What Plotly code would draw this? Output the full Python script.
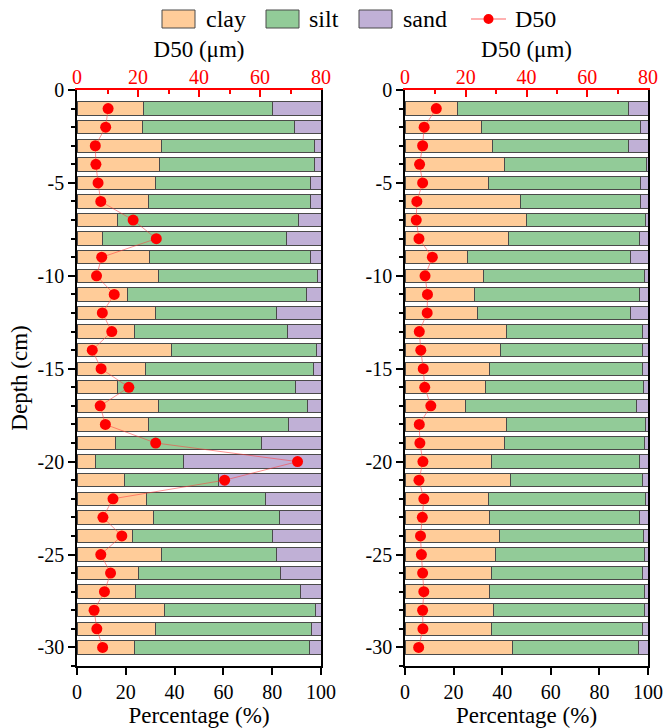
import plotly.graph_objects as go

depths = [-i for i in range(1, 31)]

# Left core
clay_a = [27.4, 27.0, 34.7, 33.7, 32.2, 29.2, 16.7, 10.5, 29.7, 33.3,
          20.7, 32.3, 23.6, 38.6, 27.9, 16.4, 33.2, 29.5, 15.6, 7.5,
          19.3, 28.5, 31.2, 22.9, 34.8, 25.3, 24.1, 36.0, 32.1, 23.7]
silt_end_a = [80.3, 89.0, 97.4, 97.3, 95.8, 95.6, 90.8, 86.0, 95.6, 98.5,
              94.2, 81.9, 86.4, 98.1, 97.0, 89.7, 94.5, 86.7, 75.6, 43.8,
              58.1, 77.4, 83.0, 80.3, 81.9, 83.4, 91.8, 97.8, 96.2, 95.3]
d50_a = [10.2, 9.4, 6.0, 6.2, 6.9, 7.8, 18.4, 26.0, 8.1, 6.4,
         12.2, 8.3, 11.4, 5.0, 7.9, 17.0, 7.6, 9.3, 25.8, 72.3,
         48.4, 11.8, 8.5, 14.7, 7.8, 11.0, 9.0, 5.6, 6.5, 8.4]

# Right core
clay_b = [21.7, 31.6, 36.0, 40.9, 34.2, 47.4, 49.9, 42.7, 25.7, 32.1,
          28.7, 29.7, 41.9, 39.1, 34.8, 33.0, 24.9, 41.8, 41.1, 35.7,
          43.4, 34.5, 34.9, 38.7, 37.2, 35.8, 34.8, 36.5, 35.8, 44.4]
silt_end_b = [91.9, 97.1, 91.9, 99.2, 97.1, 97.1, 98.8, 96.3, 93.0, 98.6,
              96.3, 93.0, 97.9, 97.8, 97.7, 98.2, 95.2, 98.9, 98.6, 96.3,
              97.8, 98.9, 96.6, 98.1, 98.6, 97.8, 98.6, 98.5, 97.9, 96.2]
d50_b = [10.3, 6.3, 5.8, 4.8, 5.8, 3.9, 3.7, 4.6, 9.0, 6.6,
         7.4, 7.3, 4.7, 5.2, 6.0, 6.5, 8.5, 4.7, 4.9, 5.9,
         4.6, 6.2, 5.7, 5.1, 5.4, 5.8, 6.2, 5.8, 5.9, 4.5]

legend_names = ["clay", "silt", "sand", "D50"]

silt_a = [round(s - c, 2) for s, c in zip(silt_end_a, clay_a)]
sand_a = [round(100 - s, 2) for s in silt_end_a]
silt_b = [round(s - c, 2) for s, c in zip(silt_end_b, clay_b)]
sand_b = [round(100 - s, 2) for s in silt_end_b]

C_CLAY = "#FFCC99"
C_SILT = "#92CB98"
C_SAND = "#C0B0D6"
C_D50 = "#FF0000"
EDGE = "#4a4a4a"
FONT = "Liberation Serif"

W, H = 664, 728
fig = go.Figure()

panels = [
    (clay_a, silt_a, sand_a, d50_a, "x", "x3", "y"),
    (clay_b, silt_b, sand_b, d50_b, "x2", "x4", "y2"),
]
for clay, silt, sand, d50, xa, xt, ya in panels:
    for name, vals, col in [("clay", clay, C_CLAY), ("silt", silt, C_SILT), ("sand", sand, C_SAND)]:
        fig.add_trace(go.Bar(
            y=depths, x=vals, orientation="h", name=name, showlegend=False,
            marker=dict(color=col, line=dict(color=EDGE, width=1)),
            width=0.72, xaxis=xa, yaxis=ya))
    fig.add_trace(go.Scatter(
        y=depths, x=d50, mode="lines+markers", name="D50", showlegend=False,
        line=dict(color="rgba(255,60,60,0.55)", width=1),
        marker=dict(color=C_D50, size=11),
        xaxis=xt, yaxis=ya))

def px_x(a, b):
    return [a / W, b / W]

y_dom = [1 - 666 / H, 1 - 90 / H]
dom_a = px_x(77, 321)
dom_b = px_x(405, 648)

ytickvals = [0, -5, -10, -15, -20, -25, -30]
yticktext = [str(v) for v in ytickvals]
minor_vals = [-i for i in range(0, 32)]

def yax(anchor, title):
    return dict(domain=y_dom, anchor=anchor, range=[-31, 0], automargin=False,
                tickmode="array", tickvals=ytickvals, ticktext=yticktext,
                ticks="outside", ticklen=7, tickwidth=1.5, tickcolor="black",
                minor=dict(tickmode="array", tickvals=minor_vals, ticks="outside", ticklen=4, tickcolor="black"),
                showline=True, linecolor="black", linewidth=1.5, mirror=True,
                showgrid=False, zeroline=False,
                tickfont=dict(family=FONT, size=20, color="black"),
                title=dict(text=title, font=dict(family=FONT, size=23, color="black"), standoff=4))

def xbot(domain, anchor):
    return dict(domain=domain, anchor=anchor, range=[0, 100], automargin=False,
                tickvals=[0, 20, 40, 60, 80, 100], ticks="outside", ticklen=7, tickwidth=1.5,
                tickcolor="black", showline=True, linecolor="black", linewidth=1.5,
                showgrid=False, zeroline=False,
                tickfont=dict(family=FONT, size=20, color="black"),
                title=dict(text="Percentage (%)", font=dict(family=FONT, size=23, color="black"), standoff=0))

def xtop(over, anchor):
    return dict(overlaying=over, anchor=anchor, side="top", range=[0, 80], automargin=False,
                tickvals=[0, 20, 40, 60, 80], ticks="inside", ticklen=7, tickwidth=1.5,
                tickcolor="red", showline=True, linecolor="red", linewidth=1.5,
                minor=dict(dtick=10, tick0=0, ticks="inside", ticklen=4, tickcolor="red"),
                showgrid=False, zeroline=False, ticklabelstandoff=-4,
                tickfont=dict(family=FONT, size=20, color="red"),
                title=dict(text="D50 (μm)", font=dict(family=FONT, size=23, color="black"), standoff=2))

# Custom legend (swatches as shapes, labels as text)
shapes = []
annotations = []
LY = 19
ly0, ly1 = 1 - (LY + 9) / H, 1 - (LY - 9) / H
legend_pos = [(162, 195, 204), (266, 299, 307), (359, 392, 401), (471, 506, 513)]
legend_cols = [C_CLAY, C_SILT, C_SAND, C_D50]
for (x0, x1, tx), name, col in zip(legend_pos, legend_names, legend_cols):
    if name == "D50":
        shapes.append(dict(type="line", xref="paper", yref="paper", x0=x0 / W, x1=x1 / W,
                           y0=1 - LY / H, y1=1 - LY / H, line=dict(color="rgba(255,60,60,0.8)", width=1.2)))
        cx, r = (x0 + x1) / 2, 5
        shapes.append(dict(type="circle", xref="paper", yref="paper",
                           x0=(cx - r) / W, x1=(cx + r) / W, y0=1 - (LY + r) / H, y1=1 - (LY - r) / H,
                           fillcolor=col, line=dict(color=col, width=0)))
    else:
        shapes.append(dict(type="rect", xref="paper", yref="paper", x0=x0 / W, x1=x1 / W,
                           y0=ly0, y1=ly1, fillcolor=col, line=dict(color=EDGE, width=1)))
    annotations.append(dict(text=name, xref="paper", yref="paper", x=tx / W, y=1 - LY / H,
                            xanchor="left", yanchor="middle", showarrow=False,
                            font=dict(family=FONT, size=24, color="black")))

fig.update_layout(
    width=W, height=H,
    margin=dict(l=0, r=0, t=0, b=0),
    paper_bgcolor="white", plot_bgcolor="white",
    barmode="stack",
    font=dict(family=FONT, color="black"),
    showlegend=False,
    xaxis=xbot(dom_a, "y"),
    xaxis2=xbot(dom_b, "y2"),
    xaxis3=xtop("x", "y"),
    xaxis4=xtop("x2", "y2"),
    yaxis=yax("x", "Depth (cm)"),
    yaxis2=yax("x2", ""),
    shapes=shapes,
    annotations=annotations,
)

fig.write_html("out.html")
